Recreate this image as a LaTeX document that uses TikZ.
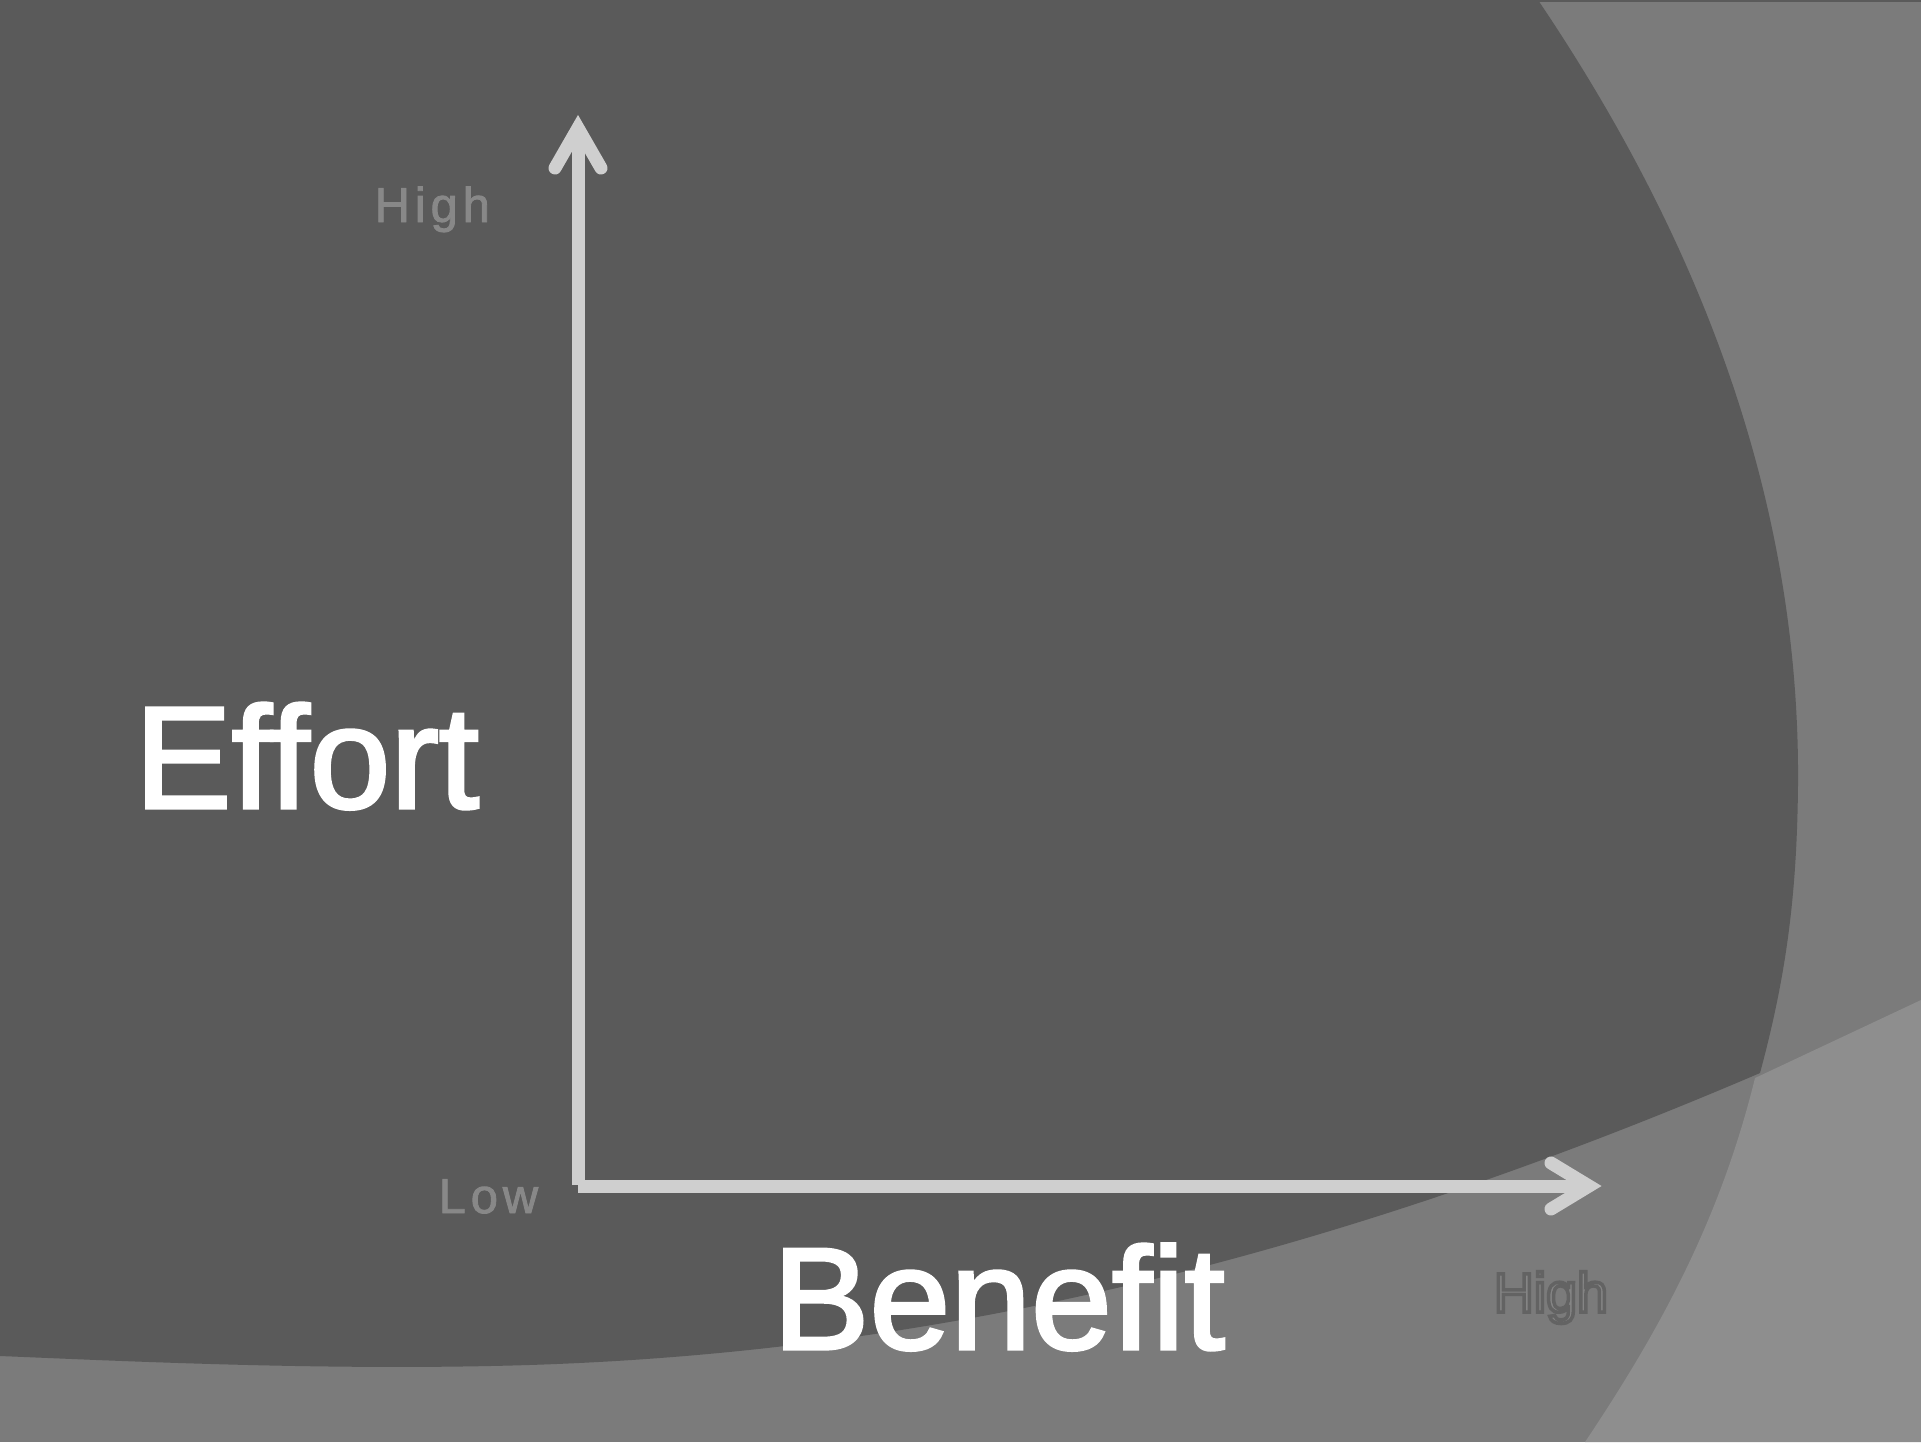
\documentclass[tikz,border=0pt]{standalone}
\usepackage{fontspec}
\setmainfont{Liberation Sans}
\definecolor{midgray}{HTML}{7B7B7B}
\definecolor{lightgray2}{HTML}{8E8E8E}
\definecolor{darkgray2}{HTML}{5A5A5A}
\definecolor{axisgray}{HTML}{CFCFCF}
\definecolor{lblgray}{HTML}{888888}
\definecolor{hifill}{HTML}{858585}
% #1 stroke width (pt), #2 stroke colour as "r g b", #3 text
\newcommand{\strokedtext}[3]{\special{pdf:literal direct 2 Tr #1 w #2 RG}#3\special{pdf:literal direct 0 Tr}}
\begin{document}
\begin{tikzpicture}[x=0.01cm,y=-0.01cm,
  axisline/.style={draw=axisgray,line width=1.3mm},
  axishead/.style={draw=axisgray,line width=1.3mm,line cap=round,line join=miter},
  smalllabel/.style={text=lblgray,font=\fontsize{13.9}{16}\selectfont\addfontfeature{LetterSpace=10},inner sep=0pt,anchor=base west},
  biglabel/.style={text=white,font=\fontsize{41.3}{48}\selectfont\addfontfeature{Ligatures=NoCommon},inner sep=0pt,anchor=base west},
  outlabel/.style={text=hifill,font=\fontsize{15.8}{18}\selectfont,inner sep=0pt,anchor=base west}]
\useasboundingbox (0,0) rectangle (1921,1442);
% background
\fill[midgray] (0,0) rectangle (1921,1442);
\fill[lightgray2] (1921,1000) -- (1755,1078) .. controls (1720,1220) and (1660,1330) .. (1585,1442) -- (1921,1442) -- cycle;
\fill[darkgray2] (0,0) -- (1538,0) .. controls (1700,240) and (1800,500) .. (1798,784)
  .. controls (1797,900) and (1785,980) .. (1760,1073)
  .. controls (1300,1270) and (900,1358) .. (490,1366)
  .. controls (300,1370) and (100,1360) .. (0,1356) -- cycle;
\draw[darkgray2,line width=0.2mm] (1538,1) -- (1921,1);
% axes
\coordinate (origin) at (578,1186);
\coordinate (ybase) at (578,1185);
\coordinate (ytip) at (578,128);
\coordinate (xtip) at (1589,1186);
\coordinate (yb1) at (555,168);
\coordinate (yb2) at (601,168);
\coordinate (xb1) at (1551,1163);
\coordinate (xb2) at (1551,1209);
\draw[axisline] (ybase) -- (ytip);
\draw[axisline] (origin) -- (xtip);
\draw[axishead] (yb1) -- (ytip) -- (yb2);
\draw[axishead] (xb1) -- (xtip) -- (xb2);
% labels
\node[smalllabel] (highy) at (374,222) {\strokedtext{0.25}{0.533 0.533 0.533}{High}};
\node[smalllabel] (low) at (438,1213) {\strokedtext{0.25}{0.533 0.533 0.533}{Low}};
\node[biglabel] (effort) at (134,808) {\strokedtext{0.9}{1 1 1}{Effort}};
\node[biglabel] (benefit) at (772,1349) {\strokedtext{0.9}{1 1 1}{Benefit}};
\node[outlabel] (highx) at (1493,1312) {\strokedtext{1.0}{0.39 0.39 0.39}{High}};
\end{tikzpicture}
\end{document}
